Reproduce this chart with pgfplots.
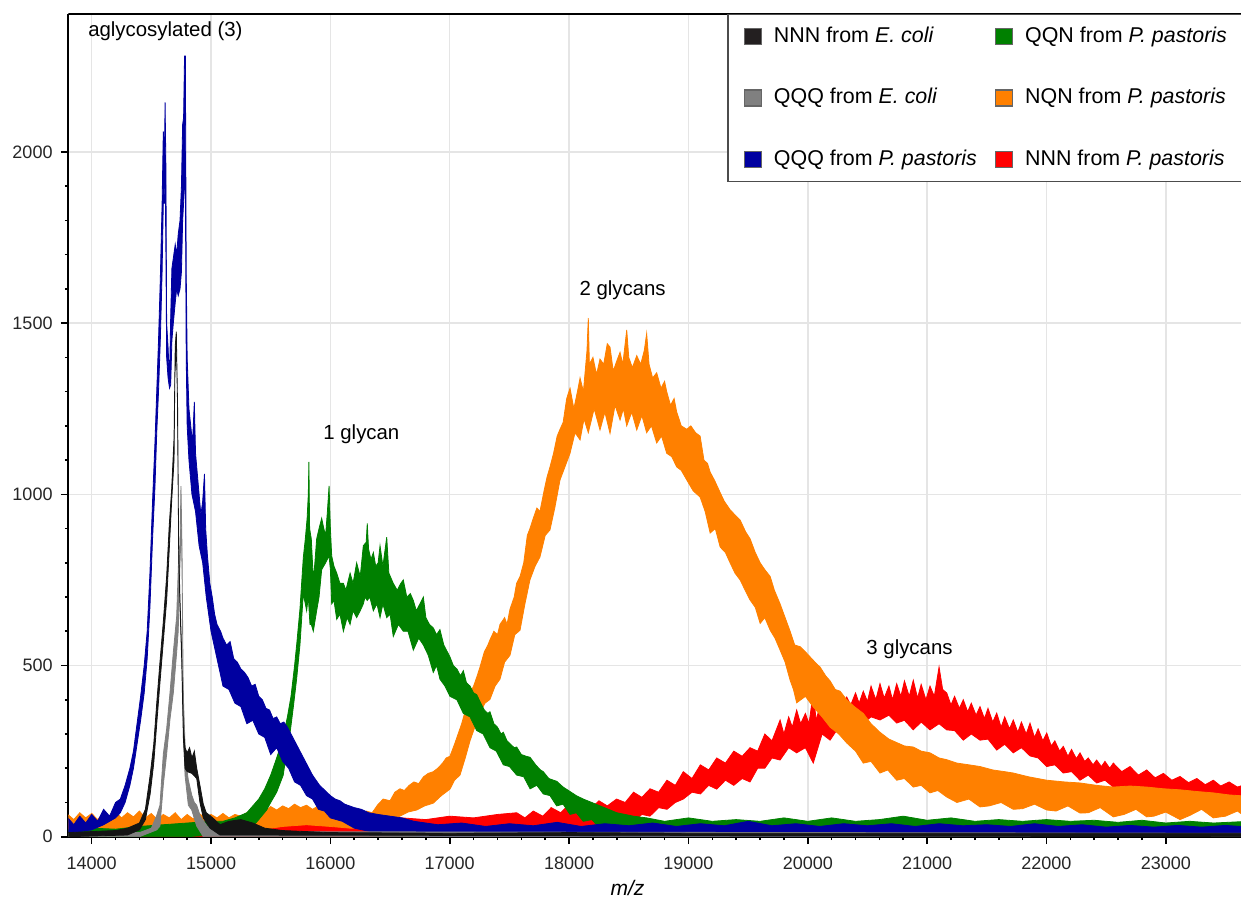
\documentclass[border=0pt]{standalone}
\usepackage{pgfplots}
\pgfplotsset{compat=1.18}
\usepackage{fontspec}
\setmainfont{Liberation Sans}
\usetikzlibrary{calc}
\definecolor{cblack}{RGB}{20,20,20}
\definecolor{cblackleg}{RGB}{35,31,32}
\definecolor{cgrey}{RGB}{128,128,128}
\definecolor{cblue}{RGB}{0,0,160}
\definecolor{cgreen}{RGB}{0,128,0}
\definecolor{corange}{RGB}{255,128,0}
\definecolor{cred}{RGB}{255,0,0}
\begin{document}
\begin{tikzpicture}
\begin{axis}[
  scale only axis,
  width=586.35pt, height=411.35pt,
  xmin=13804, xmax=23630, ymin=0, ymax=2403,
  axis x line*=bottom, axis y line*=left,
  axis line style={line width=1pt, black},
  xtick={14000,15000,...,23000}, ytick={0,500,...,2000},
  scaled x ticks=false, scaled y ticks=false,
  minor x tick num=4, minor y tick num=4,
  tick align=outside, major tick length=3.75pt, minor tick length=1.75pt,
  tick style={black, line width=0.8pt},
  grid=major, major grid style={draw=black!10, line width=0.75pt},
  /pgf/number format/assume math mode=true,
  /pgf/number format/1000 sep={},
  tick label style={font=\fontsize{9}{10}\selectfont, text=black!85},
  xticklabel style={yshift=-3pt},
  yticklabel style={xshift=-0.6pt},
  xlabel={\textit{m/z}},
  xlabel style={at={(axis description cs:0.4768,0)}, anchor=base, yshift=-29.15pt, font=\fontsize{10.5}{12}\selectfont},
  no markers,
  legend columns=2,
  legend cell align=left,
  legend image code/.code={\draw[#1] (0pt,-4pt) rectangle (8.5pt,4pt);},
  legend style={at={(axis description cs:0.5617,1)}, anchor=north west,
    draw=black!70, line width=0.75pt, fill=white,
    font=\fontsize{10.7}{12}\selectfont,
    inner xsep=8pt, inner ysep=6.1pt,
    row sep=21pt, column sep=6pt,
    nodes={inner sep=0pt, text height=7.7pt, text depth=2pt},
    /tikz/every even column/.append style={column sep=9pt}},
]
\addlegendimage{fill=cblackleg, draw=black!60, line width=0.6pt}
\addlegendentry{NNN from \textit{E. coli}}
\addlegendimage{fill=cgreen, draw=black!60, line width=0.6pt}
\addlegendentry{QQN from \textit{P. pastoris}}
\addlegendimage{fill=cgrey, draw=black!60, line width=0.6pt}
\addlegendentry{QQQ from \textit{E. coli}}
\addlegendimage{fill=corange, draw=black!60, line width=0.6pt}
\addlegendentry{NQN from \textit{P. pastoris}}
\addlegendimage{fill=cblue, draw=black!60, line width=0.6pt}
\addlegendentry{QQQ from \textit{P. pastoris}}
\addlegendimage{fill=cred, draw=black!60, line width=0.6pt}
\addlegendentry{NNN from \textit{P. pastoris}}

% red: NNN from P. pastoris (upper edge of the noise band, then lower edge back)
\addplot[forget plot, draw=cred, fill=cred, line width=0.4pt] coordinates {
(13800,40) (14000,35) (14200,45) (14400,38) (14600,48) (14800,40) (15000,45) (15200,38) (15400,42) (15600,35) (15800,40) (16000,45) (16200,50) (16400,45) (16600,55) (16800,50) (17000,60) (17200,55) (17400,65) (17561,70) (17630,55) (17700,75) (17780,60) (17850,85) (17930,70) (18000,95) (18060,75) (18119,100) (18190,85) (18250,105) (18320,90) (18398,110) (18470,100) (18540,130) (18610,115) (18678,140) (18750,130) (18820,165) (18890,150) (18957,190) (19030,170) (19100,210) (19170,195) (19237,230) (19310,215) (19380,250) (19450,235) (19516,260) (19580,250) (19640,300) (19700,280) (19768,341) (19800,300) (19840,350) (19870,320) (19907,370) (19940,330) (19980,360) (20010,330) (20046,420) (20070,340) (20100,380) (20140,350) (20187,399) (20220,370) (20260,405) (20290,375) (20326,408) (20360,385) (20400,420) (20430,390) (20465,425) (20500,395) (20530,440) (20570,400) (20605,447) (20640,405) (20680,440) (20710,400) (20745,447) (20780,410) (20810,455) (20850,410) (20884,457) (20920,405) (20950,445) (20990,400) (21024,440) (21060,410) (21100,496) (21130,430) (21164,420) (21200,385) (21230,410) (21270,375) (21303,400) (21340,365) (21370,390) (21410,355) (21443,380) (21480,345) (21510,375) (21550,335) (21583,361) (21620,320) (21650,350) (21690,315) (21722,341) (21760,305) (21790,335) (21830,300) (21862,332) (21900,290) (21930,315) (21970,280) (22002,303) (22040,265) (22070,280) (22110,250) (22141,264) (22180,235) (22210,255) (22250,228) (22281,245) (22320,220) (22350,230) (22390,210) (22420,224) (22460,205) (22490,220) (22530,200) (22560,215) (22630,190) (22700,205) (22770,180) (22840,195) (22910,172) (22980,185) (23050,165) (23119,176) (23190,158) (23260,170) (23330,152) (23398,165) (23460,148) (23530,160) (23600,145) (23700,157)
(23700,87) (23600,110) (23500,95) (23398,108) (23300,125) (23200,105) (23119,108) (23020,130) (22930,115) (22840,128) (22750,150) (22650,135) (22560,145) (22490,165) (22420,157) (22350,180) (22281,165) (22210,190) (22141,186) (22070,210) (22002,205) (21930,230) (21862,236) (21790,260) (21722,245) (21650,270) (21583,253) (21510,285) (21443,282) (21370,300) (21303,282) (21230,310) (21164,312) (21100,330) (21024,312) (20950,335) (20884,312) (20810,340) (20745,332) (20680,355) (20605,341) (20530,350) (20465,332) (20400,340) (20326,312) (20260,320) (20187,282) (20120,300) (20046,215) (19980,260) (19907,245) (19840,260) (19768,224) (19700,230) (19640,200) (19580,200) (19516,160) (19450,170) (19380,150) (19310,165) (19237,139) (19170,150) (19100,125) (19030,130) (18957,110) (18890,100) (18820,80) (18750,85) (18678,60) (18610,65) (18540,45) (18470,50) (18398,40) (18300,35) (18200,28) (18119,20) (17900,15) (17561,8) (17000,5) (16000,0) (13800,0)
};

% orange: NQN from P. pastoris
\addplot[forget plot, draw=corange, fill=corange, line width=0.4pt] coordinates {
(13800,65) (13850,50) (13900,70) (13950,55) (14000,68) (14050,50) (14100,70) (14150,55) (14200,72) (14250,55) (14300,70) (14350,58) (14400,75) (14450,55) (14500,68) (14550,50) (14600,65) (14650,55) (14700,70) (14750,50) (14800,65) (14850,52) (14900,68) (14950,55) (15000,65) (15050,55) (15100,68) (15150,55) (15200,65) (15250,60) (15300,70) (15350,62) (15400,80) (15450,72) (15500,88) (15550,78) (15600,90) (15650,82) (15700,95) (15750,85) (15800,92) (15850,80) (15900,90) (15950,78) (16000,85) (16050,70) (16100,75) (16150,60) (16200,68) (16250,62) (16300,75) (16350,70) (16400,95) (16443,110) (16500,105) (16540,130) (16583,140) (16620,135) (16660,150) (16700,160) (16740,155) (16780,175) (16820,185) (16862,190) (16900,200) (16940,215) (16970,230) (17002,235) (17040,270) (17070,300) (17100,330) (17140,380) (17170,420) (17200,440) (17230,470) (17253,495) (17290,540) (17320,560) (17337,575) (17370,600) (17400,590) (17421,620) (17460,640) (17480,620) (17505,665) (17540,700) (17560,740) (17589,760) (17620,800) (17650,880) (17672,900) (17700,930) (17730,960) (17756,950) (17790,1010) (17815,1050) (17840,1080) (17870,1120) (17900,1170) (17924,1190) (17950,1210) (17980,1280) (18008,1310) (18040,1250) (18070,1300) (18092,1340) (18120,1300) (18150,1420) (18161,1515) (18170,1380) (18200,1400) (18230,1350) (18259,1395) (18290,1380) (18320,1440) (18343,1430) (18370,1360) (18400,1390) (18427,1415) (18450,1380) (18483,1480) (18500,1400) (18530,1370) (18567,1405) (18600,1380) (18630,1420) (18650,1470) (18670,1380) (18700,1340) (18734,1355) (18770,1310) (18800,1330) (18818,1300) (18850,1260) (18880,1280) (18902,1240) (18940,1200) (18986,1190) (19020,1200) (19060,1180) (19098,1170) (19130,1100) (19160,1090) (19182,1065) (19220,1040) (19266,1005) (19300,980) (19349,955) (19390,940) (19433,925) (19480,890) (19517,870) (19560,830) (19601,800) (19640,780) (19685,760) (19720,720) (19768,680) (19810,640) (19852,600) (19890,560) (19936,555) (19980,540) (20020,525) (20060,510) (20104,495) (20150,470) (20187,455) (20230,430) (20271,425) (20326,400) (20390,380) (20465,360) (20530,330) (20605,305) (20680,285) (20745,275) (20810,265) (20884,262) (20950,250) (21024,245) (21100,230) (21164,225) (21250,215) (21350,210) (21443,205) (21550,195) (21650,190) (21722,186) (21850,175) (22002,165) (22150,160) (22281,157) (22420,150) (22560,145) (22700,148) (22840,145) (22980,140) (23119,137) (23260,132) (23398,128) (23530,122) (23700,118)
(23700,50) (23600,75) (23500,60) (23398,55) (23300,80) (23200,62) (23119,50) (23000,72) (22900,60) (22840,58) (22750,80) (22650,65) (22560,58) (22450,85) (22350,70) (22281,69) (22180,90) (22080,75) (22002,78) (21900,95) (21800,82) (21722,80) (21620,100) (21520,90) (21443,87) (21350,110) (21250,100) (21164,116) (21090,135) (21024,128) (20950,150) (20884,145) (20810,170) (20745,165) (20670,195) (20605,186) (20530,220) (20465,215) (20400,250) (20326,274) (20260,300) (20187,320) (20120,350) (20046,379) (19980,410) (19907,391) (19880,430) (19852,457) (19810,510) (19768,545) (19725,580) (19685,603) (19640,640) (19601,623) (19560,670) (19517,691) (19475,720) (19433,750) (19390,770) (19349,800) (19310,830) (19266,846) (19225,900) (19182,887) (19140,950) (19098,992) (19040,1010) (18986,1042) (18940,1070) (18902,1080) (18860,1110) (18818,1120) (18775,1170) (18734,1150) (18690,1200) (18650,1180) (18610,1230) (18567,1188) (18525,1240) (18483,1200) (18455,1250) (18427,1217) (18385,1260) (18343,1178) (18300,1240) (18259,1188) (18210,1250) (18161,1180) (18125,1220) (18092,1159) (18050,1180) (18008,1120) (17965,1080) (17924,1042) (17880,960) (17840,896) (17800,880) (17756,817) (17715,790) (17672,750) (17630,680) (17589,603) (17545,590) (17505,530) (17460,510) (17421,460) (17380,440) (17337,401) (17295,390) (17253,361) (17210,320) (17170,280) (17130,230) (17086,180) (17040,165) (17002,139) (16930,120) (16862,98) (16790,90) (16723,78) (16650,72) (16583,60) (16510,50) (16443,40) (16370,35) (16300,25) (16165,25) (16000,30) (15800,35) (15600,30) (15400,20) (15000,18) (14500,15) (14000,18) (13800,20)
};

% green: QQN from P. pastoris
\addplot[forget plot, draw=cgreen, fill=cgreen, line width=0.4pt] coordinates {
(13800,20) (14000,25) (14200,22) (14400,30) (14600,35) (14800,40) (15000,45) (15100,45) (15200,55) (15300,70) (15350,90) (15400,110) (15450,140) (15500,180) (15550,230) (15600,285) (15640,350) (15670,410) (15700,500) (15720,570) (15745,665) (15773,815) (15790,870) (15805,930) (15815,1000) (15820,1095) (15826,900) (15840,870) (15857,750) (15870,800) (15885,870) (15905,900) (15927,930) (15945,900) (15960,880) (15975,950) (15989,1025) (16000,900) (16011,820) (16030,790) (16053,770) (16080,740) (16109,740) (16130,720) (16165,770) (16190,740) (16220,800) (16250,760) (16276,850) (16300,860) (16309,915) (16320,840) (16340,810) (16360,830) (16380,790) (16400,800) (16416,850) (16440,790) (16472,875) (16490,770) (16527,740) (16560,720) (16590,740) (16611,750) (16640,700) (16670,710) (16695,690) (16720,660) (16750,680) (16779,700) (16800,640) (16830,620) (16862,610) (16890,590) (16918,605) (16950,560) (16980,540) (17002,525) (17030,500) (17060,490) (17090,470) (17114,485) (17140,450) (17170,440) (17200,420) (17226,415) (17260,390) (17290,370) (17320,360) (17337,365) (17370,330) (17400,320) (17430,300) (17449,305) (17480,280) (17510,270) (17540,260) (17561,262) (17600,240) (17640,235) (17673,232) (17720,210) (17760,195) (17784,190) (17830,170) (17870,165) (17896,162) (17950,145) (18008,132) (18060,120) (18119,110) (18190,100) (18259,90) (18330,80) (18399,70) (18470,65) (18538,60) (18650,55) (18800,45) (19000,55) (19200,45) (19400,50) (19600,45) (19800,55) (20000,45) (20200,55) (20400,45) (20600,50) (20800,60) (21000,48) (21200,55) (21400,45) (21600,50) (21800,45) (22000,50) (22200,45) (22400,48) (22600,42) (22800,48) (23000,40) (23200,45) (23400,40) (23700,45)
(23700,5) (18800,5) (18650,15) (18538,10) (18470,28) (18399,20) (18330,35) (18259,25) (18190,50) (18119,45) (18060,70) (18008,65) (17950,95) (17896,90) (17840,120) (17784,125) (17730,150) (17673,140) (17620,175) (17561,180) (17500,205) (17449,210) (17390,250) (17337,260) (17280,300) (17226,310) (17170,350) (17114,360) (17060,400) (17002,410) (16960,440) (16918,460) (16890,500) (16862,480) (16820,530) (16779,560) (16740,580) (16695,545) (16650,600) (16611,600) (16570,620) (16527,585) (16500,650) (16472,640) (16440,680) (16416,640) (16390,680) (16360,660) (16330,700) (16309,690) (16290,700) (16276,680) (16250,660) (16220,640) (16190,660) (16165,620) (16140,640) (16109,600) (16080,650) (16053,635) (16030,690) (16011,680) (16000,780) (15989,820) (15960,800) (15927,780) (15905,700) (15885,660) (15857,600) (15840,620) (15829,620) (15815,700) (15801,660) (15773,710) (15745,560) (15717,460) (15690,380) (15661,300) (15630,240) (15605,180) (15550,130) (15500,100) (15466,78) (15400,50) (15326,20) (15200,10) (15000,5) (14800,0) (13800,0)
};

% blue: QQQ from P. pastoris
\addplot[forget plot, draw=cblue, fill=cblue, line width=0.4pt] coordinates {
(13800,55) (13850,35) (13900,60) (13950,40) (14000,65) (14050,45) (14100,80) (14150,60) (14200,100) (14240,110) (14280,150) (14320,200) (14350,250) (14380,330) (14410,410) (14440,500) (14465,600) (14488,770) (14510,980) (14530,1150) (14545,1300) (14560,1450) (14575,1630) (14590,1850) (14600,2060) (14610,2000) (14615,2145) (14622,1950) (14628,1500) (14640,1430) (14652,1330) (14662,1520) (14672,1660) (14684,1690) (14700,1730) (14712,1700) (14725,1760) (14740,1800) (14752,1900) (14762,2080) (14770,2100) (14778,2280) (14785,2280) (14792,1650) (14800,1400) (14815,1250) (14830,1200) (14845,1150) (14860,1270) (14870,1120) (14885,1060) (14900,1000) (14915,940) (14930,980) (14945,1060) (14955,900) (14970,820) (14990,740) (15010,700) (15030,650) (15050,620) (15080,600) (15100,580) (15130,560) (15160,570) (15190,520) (15220,510) (15250,490) (15280,480) (15310,465) (15340,440) (15370,445) (15400,410) (15430,400) (15460,375) (15490,370) (15520,345) (15550,350) (15580,330) (15610,335) (15640,320) (15670,300) (15700,280) (15730,260) (15760,240) (15790,220) (15820,200) (15850,180) (15880,165) (15910,150) (15940,140) (15970,130) (16000,120) (16040,110) (16080,105) (16120,95) (16160,90) (16200,85) (16260,80) (16320,70) (16400,65) (16500,60) (16600,55) (16700,45) (16900,35) (17100,40) (17300,30) (17500,38) (17700,32) (17900,42) (18100,30) (18300,38) (18500,32) (18700,40) (18900,30) (19100,38) (19300,32) (19500,45) (19700,32) (19900,38) (20100,30) (20300,38) (20500,32) (20700,38) (20900,30) (21100,38) (21300,32) (21500,35) (21700,30) (21900,38) (22100,30) (22300,35) (22500,28) (22700,33) (22900,28) (23100,33) (23300,28) (23500,33) (23700,28)
(23700,0) (16800,0) (16600,5) (16400,10) (16200,25) (16100,45) (16000,55) (15950,75) (15900,80) (15850,110) (15800,120) (15750,150) (15700,160) (15650,200) (15600,220) (15550,260) (15500,240) (15450,290) (15400,300) (15350,340) (15300,330) (15250,380) (15200,390) (15150,430) (15100,440) (15050,520) (15000,600) (14960,700) (14930,800) (14900,850) (14870,950) (14840,1000) (14815,1100) (14800,1200) (14792,1400) (14785,1900) (14778,1900) (14770,1850) (14762,1800) (14752,1650) (14740,1600) (14725,1580) (14712,1600) (14700,1560) (14684,1500) (14672,1450) (14662,1320) (14652,1310) (14640,1340) (14628,1400) (14622,1700) (14615,1950) (14610,1850) (14600,1850) (14590,1650) (14575,1450) (14560,1300) (14545,1180) (14530,1020) (14510,870) (14488,670) (14465,520) (14440,420) (14410,340) (14380,270) (14350,200) (14320,150) (14280,100) (14240,70) (14200,55) (14100,35) (14000,20) (13900,15) (13800,10)
};

% grey: QQQ from E. coli
\addplot[forget plot, draw=cgrey, fill=cgrey, line width=0.4pt] coordinates {
(13800,10) (14400,12) (14500,25) (14545,62) (14572,92) (14600,241) (14628,315) (14656,420) (14684,539) (14712,643) (14731,837) (14740,852) (14748,1024) (14757,837) (14764,500) (14770,390) (14782,271) (14796,200) (14810,165) (14838,122) (14860,100) (14880,92) (14910,60) (14935,47) (14970,30) (15100,15) (23700,10)
(23700,0) (15000,0) (14935,0) (14880,31) (14838,78) (14810,92) (14782,180) (14770,300) (14760,700) (14752,900) (14745,850) (14738,780) (14725,600) (14712,539) (14684,420) (14656,343) (14628,241) (14600,151) (14572,31) (14545,20) (14400,0) (13800,0)
};

% black: NNN from E. coli
\addplot[forget plot, draw=cblack, fill=cblack, line width=0.4pt] coordinates {
(13800,12) (14000,15) (14200,18) (14300,25) (14400,40) (14450,80) (14490,180) (14520,270) (14545,390) (14572,510) (14600,627) (14628,760) (14650,910) (14670,1015) (14690,1164) (14700,1433) (14709,1475) (14718,1290) (14729,840) (14740,690) (14754,540) (14768,320) (14782,260) (14800,245) (14820,260) (14840,230) (14860,250) (14880,200) (14907,150) (14935,95) (14960,70) (14991,62) (15030,50) (15075,35) (15150,45) (15250,50) (15350,40) (15450,25) (15600,18) (16000,12) (17000,10) (18000,12) (19000,10) (20000,10) (21000,10) (22000,10) (23000,10) (23700,10)
(23700,0) (15075,5) (14991,25) (14935,55) (14907,100) (14880,170) (14840,185) (14800,190) (14782,200) (14768,290) (14754,520) (14740,670) (14729,820) (14720,1250) (14712,1400) (14705,1400) (14697,1350) (14690,1100) (14670,980) (14650,840) (14628,690) (14600,570) (14572,450) (14545,330) (14520,215) (14490,125) (14450,50) (14400,20) (14300,5) (13800,0)
};

\node[anchor=base west, inner sep=0pt, font=\fontsize{10.2}{12}\selectfont] at (axis cs:13968,2336) {aglycosylated (3)};
\node[anchor=base west, inner sep=0pt, font=\fontsize{10.2}{12}\selectfont] at (axis cs:15938,1160) {1 glycan};
\node[anchor=base west, inner sep=0pt, font=\fontsize{10.2}{12}\selectfont] at (axis cs:18084,1582) {2 glycans};
\node[anchor=base west, inner sep=0pt, font=\fontsize{10.2}{12}\selectfont] at (axis cs:20488,531) {3 glycans};

\draw[line width=1pt, black] (rel axis cs:0,1) -- (rel axis cs:1,1);
\coordinate (ll) at (rel axis cs:0,0);
\coordinate (ur) at (rel axis cs:1,1);
\end{axis}
\pgfresetboundingbox
\useasboundingbox ($(ll)+(-34.15pt,-31.15pt)$) rectangle ($(ur)+(0pt,7pt)$);
\end{tikzpicture}
\end{document}
